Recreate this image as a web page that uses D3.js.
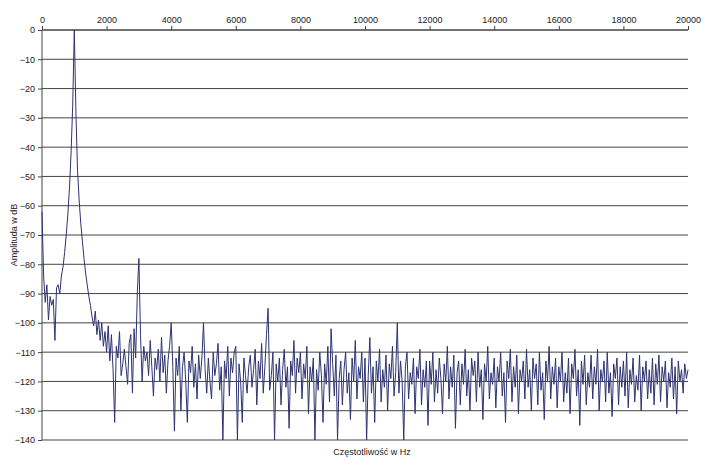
<!DOCTYPE html>
<html><head><meta charset="utf-8">
<script src="https://cdn.jsdelivr.net/npm/d3@7"></script>
<style>
body{margin:0;background:#fff;overflow:hidden;}
text{font-family:"Liberation Sans",Arial,sans-serif;}
</style></head>
<body>
<svg id="chart" width="705" height="465"></svg>
<script>
// spectrum sampled every 50 Hz, 0..20000 Hz
const stepHz = 50;
const xTicks = [0,2000,4000,6000,8000,10000,12000,14000,16000,18000,20000];
const yTicks = [0,-10,-20,-30,-40,-50,-60,-70,-80,-90,-100,-110,-120,-130,-140];
const amps = [
-62,-84,-93,-87,-99,-91,-94,-92,-106,-88,-87,-90,-84,-81,-76,-70,-63,-54,-42,-26,
0,-28,-48,-58,-66,-72,-78,-83,-87,-91,-94,-98,-101,-96,-104,-99,-106,-100,-108,-103,
-110,-101,-113,-104,-116,-134,-108,-112,-103,-118,-114,-109,-115,-121,-107,-104,-124,-102,-112,-90,
-78,-104,-120,-108,-113,-110,-118,-106,-115,-125,-112,-116,-109,-120,-105,-117,-111,-124,-113,-108,
-100,-115,-137,-112,-118,-108,-130,-115,-110,-120,-134,-113,-117,-108,-122,-114,-126,-111,-119,-112,
-100,-116,-124,-112,-120,-126,-110,-118,-114,-107,-123,-115,-140,-113,-119,-108,-125,-112,-117,-110,
-108,-140,-114,-120,-134,-112,-118,-124,-115,-111,-122,-116,-109,-128,-113,-119,-107,-124,-115,-104,
-95,-123,-118,-110,-140,-114,-120,-112,-128,-116,-109,-122,-115,-136,-113,-118,-106,-124,-112,-117,
-110,-126,-114,-119,-108,-131,-115,-120,-112,-140,-116,-123,-110,-118,-134,-114,-121,-108,-127,-102,
-114,-125,-111,-140,-119,-113,-128,-116,-110,-124,-117,-133,-112,-120,-106,-126,-115,-119,-110,-127,
-112,-140,-118,-105,-124,-115,-134,-113,-120,-109,-127,-116,-122,-111,-130,-114,-119,-108,-125,-117,
-100,-124,-113,-120,-140,-115,-110,-126,-117,-121,-112,-131,-115,-119,-109,-128,-116,-122,-113,-135,
-113,-121,-110,-127,-116,-124,-112,-119,-131,-114,-120,-108,-126,-115,-122,-111,-136,-117,-113,-128,
-114,-121,-109,-125,-116,-130,-112,-118,-113,-127,-110,-122,-116,-133,-114,-120,-108,-126,-117,-121,
-112,-129,-115,-120,-110,-125,-117,-134,-113,-119,-109,-127,-115,-122,-111,-131,-116,-120,-113,-126,
-109,-122,-116,-130,-112,-119,-114,-128,-110,-123,-117,-133,-113,-120,-108,-126,-115,-121,-112,-129,
-115,-120,-110,-127,-117,-124,-112,-131,-114,-119,-109,-125,-116,-135,-113,-121,-111,-128,-117,-122,
-111,-126,-115,-121,-109,-130,-116,-120,-113,-127,-110,-124,-117,-132,-114,-119,-112,-128,-115,-122,
-113,-125,-110,-129,-116,-121,-112,-127,-118,-123,-111,-130,-115,-120,-113,-126,-116,-124,-112,-128,
-114,-121,-111,-127,-115,-120,-113,-129,-117,-122,-112,-126,-115,-131,-113,-120,-116,-124,-114,-119,
-116
];

const svg = d3.select('#chart');
const margin = {top:30, right:17, bottom:25, left:42};
const width = +svg.attr('width'), height = +svg.attr('height');
const innerWidth = width - margin.left - margin.right;
const innerHeight = height - margin.top - margin.bottom;

const xScale = d3.scaleLinear().domain([0,20000]).range([0,innerWidth]);
const yScale = d3.scaleLinear().domain([-140,0]).range([innerHeight,0]);

const g = svg.append('g').attr('transform', `translate(${margin.left},${margin.top})`);

// grid
g.selectAll('.grid').data(yTicks).enter().append('line')
  .attr('x1',0).attr('x2',innerWidth)
  .attr('y1',d=>yScale(d)).attr('y2',d=>yScale(d))
  .attr('stroke','#444').attr('stroke-width',1);

const yAxis = g.append('g').call(d3.axisLeft(yScale).tickValues(yTicks).tickSize(4).tickPadding(3));
const xAxis = g.append('g').call(d3.axisTop(xScale).tickValues(xTicks).tickFormat(d3.format('')).tickSize(4).tickPadding(3));
[yAxis,xAxis].forEach(a=>{
  a.selectAll('.domain').attr('stroke','#444').attr('d', a===yAxis ? `M0,0V${innerHeight}` : `M0,0H${innerWidth}`);
  a.selectAll('.tick line').attr('stroke','#444');
  a.selectAll('.tick text').attr('fill','#222').style('font-size','9px');
});

const line = d3.line().x((d,i)=>xScale(i*stepHz)).y(d=>yScale(d));
g.append('path').datum(amps)
  .attr('d',line).attr('fill','none')
  .attr('stroke','#2e3370').attr('stroke-width',1);

svg.append('text')
  .attr('transform',`translate(17,${margin.top+innerHeight/2}) rotate(-90)`)
  .attr('text-anchor','middle').style('font-size','9px').attr('fill','#222')
  .text('Amplituda w dB');
svg.append('text')
  .attr('x',372).attr('y',455).attr('text-anchor','middle')
  .style('font-size','9px').attr('fill','#222')
  .text('Częstotliwość w Hz');
</script>
</body></html>
